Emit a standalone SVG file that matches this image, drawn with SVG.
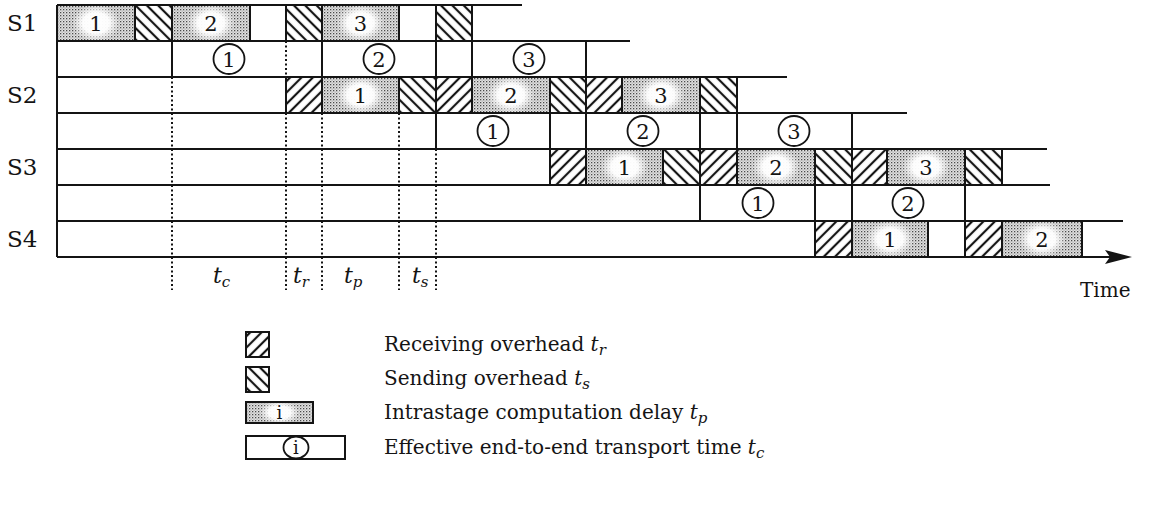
<svg xmlns="http://www.w3.org/2000/svg" width="1149" height="521" viewBox="0 0 1149 521">
<style>
  text{font-family:"DejaVu Serif","Liberation Serif",serif;fill:#141414}
  .stage{font-size:23px}
  .num{font-size:21px;text-anchor:middle}
  .var{font-size:22px;font-style:italic}
  .sub{font-size:15px;font-style:italic}
  .leg{font-size:20px}
  .kn{font-size:18px;text-anchor:middle}
  .ln{fill:none;stroke:#141414;stroke-width:2}
  .dot{fill:none;stroke:#141414;stroke-width:2;stroke-dasharray:2 2.5}
  .comp{fill:url(#stipple)}
  .clear{fill:url(#clearing)}
  .recv{fill:url(#hatchR)}
  .send{fill:url(#hatchS)}
  .ring{fill:#fff;stroke:#141414;stroke-width:1.8}
  .box{fill:none;stroke:#141414;stroke-width:2}
</style>
<defs>
  <!-- stippled grey used for computation blocks -->
  <pattern id="stipple" width="3" height="3" patternUnits="userSpaceOnUse">
    <rect width="3" height="3" fill="#e2e2e2"/>
    <rect x="0" y="0" width="1.3" height="1.3" fill="#4a4a4a"/>
    <rect x="1.6" y="1.6" width="1" height="1" fill="#8a8a8a"/>
  </pattern>
  <!-- lighter clearing behind each block number -->
  <radialGradient id="clearing">
    <stop offset="0" stop-color="#fff" stop-opacity="1"/>
    <stop offset="0.55" stop-color="#fff" stop-opacity="0.95"/>
    <stop offset="1" stop-color="#fff" stop-opacity="0"/>
  </radialGradient>
  <!-- receive overhead: rising hatch -->
  <pattern id="hatchR" width="8" height="8" patternUnits="userSpaceOnUse" patternTransform="rotate(45)">
    <rect width="8" height="8" fill="#fff"/>
    <line x1="4" y1="0" x2="4" y2="8" stroke="#141414" stroke-width="2.2"/>
  </pattern>
  <!-- send overhead: falling hatch -->
  <pattern id="hatchS" width="8" height="8" patternUnits="userSpaceOnUse" patternTransform="rotate(-45)">
    <rect width="8" height="8" fill="#fff"/>
    <line x1="4" y1="0" x2="4" y2="8" stroke="#141414" stroke-width="2.2"/>
  </pattern>
  <marker id="arrow" viewBox="0 0 27 14" markerWidth="27" markerHeight="14" refX="5" refY="7" orient="auto" markerUnits="userSpaceOnUse">
    <path d="M0 0L27 7L0 14L5 7Z" fill="#141414"/>
  </marker>
</defs>

<rect width="1149" height="521" fill="#fff"/>

<!-- stage labels -->
<g id="stage-labels" class="stage">
  <text x="7" y="31">S1</text>
  <text x="7" y="103">S2</text>
  <text x="7" y="175">S3</text>
  <text x="7" y="247">S4</text>
</g>

<!-- overhead blocks -->
<g id="send-blocks" class="send">
  <rect x="135" y="5" width="37" height="36"/>
  <rect x="286" y="5" width="36" height="36"/>
  <rect x="436" y="5" width="36" height="36"/>
  <rect x="399" y="77" width="37" height="36"/>
  <rect x="550" y="77" width="36" height="36"/>
  <rect x="700" y="77" width="37" height="36"/>
  <rect x="663" y="149" width="37" height="36"/>
  <rect x="815" y="149" width="37" height="36"/>
  <rect x="965" y="149" width="37" height="36"/>
</g>
<g id="recv-blocks" class="recv">
  <rect x="286" y="77" width="36" height="36"/>
  <rect x="436" y="77" width="36" height="36"/>
  <rect x="586" y="77" width="36" height="36"/>
  <rect x="550" y="149" width="36" height="36"/>
  <rect x="700" y="149" width="37" height="36"/>
  <rect x="852" y="149" width="35" height="36"/>
  <rect x="815" y="221" width="37" height="36"/>
  <rect x="965" y="221" width="37" height="36"/>
</g>

<!-- computation blocks -->
<g id="s1-p1"><rect class="comp" x="57" y="5" width="78" height="36"/><ellipse class="clear" cx="96" cy="23" rx="24" ry="19"/><text class="num" x="96" y="31">1</text></g>
<g id="s1-p2"><rect class="comp" x="172" y="5" width="78" height="36"/><ellipse class="clear" cx="211" cy="23" rx="24" ry="19"/><text class="num" x="211" y="31">2</text></g>
<g id="s1-p3"><rect class="comp" x="322" y="5" width="77" height="36"/><ellipse class="clear" cx="360.5" cy="23" rx="24" ry="19"/><text class="num" x="360.5" y="31">3</text></g>
<g id="s2-p1"><rect class="comp" x="322" y="77" width="77" height="36"/><ellipse class="clear" cx="360.5" cy="95" rx="24" ry="19"/><text class="num" x="360.5" y="103">1</text></g>
<g id="s2-p2"><rect class="comp" x="472" y="77" width="78" height="36"/><ellipse class="clear" cx="511" cy="95" rx="24" ry="19"/><text class="num" x="511" y="103">2</text></g>
<g id="s2-p3"><rect class="comp" x="622" y="77" width="78" height="36"/><ellipse class="clear" cx="661" cy="95" rx="24" ry="19"/><text class="num" x="661" y="103">3</text></g>
<g id="s3-p1"><rect class="comp" x="586" y="149" width="77" height="36"/><ellipse class="clear" cx="624.5" cy="167" rx="24" ry="19"/><text class="num" x="624.5" y="175">1</text></g>
<g id="s3-p2"><rect class="comp" x="737" y="149" width="78" height="36"/><ellipse class="clear" cx="776" cy="167" rx="24" ry="19"/><text class="num" x="776" y="175">2</text></g>
<g id="s3-p3"><rect class="comp" x="887" y="149" width="78" height="36"/><ellipse class="clear" cx="926" cy="167" rx="24" ry="19"/><text class="num" x="926" y="175">3</text></g>
<g id="s4-p1"><rect class="comp" x="852" y="221" width="76" height="36"/><ellipse class="clear" cx="890" cy="239" rx="24" ry="19"/><text class="num" x="890" y="247">1</text></g>
<g id="s4-p2"><rect class="comp" x="1002" y="221" width="80" height="36"/><ellipse class="clear" cx="1042" cy="239" rx="24" ry="19"/><text class="num" x="1042" y="247">2</text></g>

<!-- phase guides -->
<g id="guides" class="dot">
  <path d="M172 77V290M286 41V290M322 113V290M399 113V290M436 149V290"/>
</g>

<!-- row rules, cell dividers and time axis -->
<g id="connectors" class="ln">
  <path d="M57 5H522M57 41H630M57 77H787M57 113H907M57 149H1047M57 185H1050M57 221H1123M57 5V257"/>
  <path d="M135 5V41M172 5V41M250 5V41M286 5V41M322 5V41M399 5V41M436 5V41M472 5V41"/>
  <path d="M172 41V77M322 41V77M436 41V77M472 41V77M586 41V77"/>
  <path d="M286 77V113M322 77V113M399 77V113M436 77V113M472 77V113M550 77V113M586 77V113M622 77V113M700 77V113M737 77V113"/>
  <path d="M436 113V149M550 113V149M586 113V149M700 113V149M737 113V149M852 113V149"/>
  <path d="M550 149V185M586 149V185M663 149V185M700 149V185M737 149V185M815 149V185M852 149V185M887 149V185M965 149V185M1002 149V185"/>
  <path d="M700 185V221M815 185V221M852 185V221M965 185V221"/>
  <path d="M815 221V257M852 221V257M928 221V257M965 221V257M1002 221V257M1082 221V257"/>
  <line x1="57" y1="257" x2="1110" y2="257" marker-end="url(#arrow)"/>
</g>

<!-- transport intervals -->
<g id="t12-1"><ellipse class="ring" cx="229" cy="59" rx="15.5" ry="15"/><text class="num" x="229" y="66.5">1</text></g>
<g id="t12-2"><ellipse class="ring" cx="379" cy="59" rx="15.5" ry="15"/><text class="num" x="379" y="66.5">2</text></g>
<g id="t12-3"><ellipse class="ring" cx="529" cy="59" rx="15.5" ry="15"/><text class="num" x="529" y="66.5">3</text></g>
<g id="t23-1"><ellipse class="ring" cx="493" cy="131" rx="15.5" ry="15"/><text class="num" x="493" y="138.5">1</text></g>
<g id="t23-2"><ellipse class="ring" cx="643" cy="131" rx="15.5" ry="15"/><text class="num" x="643" y="138.5">2</text></g>
<g id="t23-3"><ellipse class="ring" cx="794" cy="131" rx="15.5" ry="15"/><text class="num" x="794" y="138.5">3</text></g>
<g id="t34-1"><ellipse class="ring" cx="758" cy="203" rx="15.5" ry="15"/><text class="num" x="758" y="210.5">1</text></g>
<g id="t34-2"><ellipse class="ring" cx="908" cy="203" rx="15.5" ry="15"/><text class="num" x="908" y="210.5">2</text></g>

<!-- interval names under the axis -->
<g id="interval-labels">
  <text class="var" x="213" y="283">t<tspan class="sub" dy="4">c</tspan></text>
  <text class="var" x="293" y="283">t<tspan class="sub" dy="4">r</tspan></text>
  <text class="var" x="344" y="283">t<tspan class="sub" dy="4">p</tspan></text>
  <text class="var" x="412" y="283">t<tspan class="sub" dy="4">s</tspan></text>
  <text class="leg" x="1080" y="297">Time</text>
</g>

<!-- key -->
<g id="key-recv">
  <rect class="recv" x="246" y="332" width="23" height="25"/><rect class="box" x="246" y="332" width="23" height="25"/>
  <text class="leg" x="384" y="351">Receiving overhead <tspan font-style="italic">t</tspan><tspan class="sub" dy="4">r</tspan></text>
</g>
<g id="key-send">
  <rect class="send" x="246" y="367" width="23" height="25"/><rect class="box" x="246" y="367" width="23" height="25"/>
  <text class="leg" x="384" y="385">Sending overhead <tspan font-style="italic">t</tspan><tspan class="sub" dy="4">s</tspan></text>
</g>
<g id="key-comp">
  <rect class="comp" x="246" y="402" width="67" height="21"/><ellipse class="clear" cx="279.5" cy="412.5" rx="20" ry="12"/><rect class="box" x="246" y="402" width="67" height="21"/>
  <text class="kn" x="279.5" y="419">i</text>
  <text class="leg" x="384" y="419">Intrastage computation delay <tspan font-style="italic">t</tspan><tspan class="sub" dy="4">p</tspan></text>
</g>
<g id="key-transport">
  <rect class="box" x="246" y="436" width="99" height="23"/>
  <ellipse class="ring" cx="296" cy="447.5" rx="12.5" ry="11"/><text class="kn" x="296" y="454">i</text>
  <text class="leg" x="384" y="454">Effective end-to-end transport time <tspan font-style="italic">t</tspan><tspan class="sub" dy="4">c</tspan></text>
</g>
</svg>
